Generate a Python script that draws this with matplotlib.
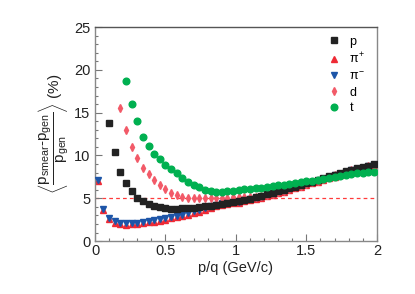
import matplotlib
matplotlib.use('Agg')
import matplotlib.pyplot as plt
import numpy as np

plt.rcParams['font.family'] = ['Liberation Sans', 'DejaVu Sans']
plt.rcParams['mathtext.fontset'] = 'custom'
plt.rcParams['mathtext.rm'] = 'Liberation Sans'
plt.rcParams['mathtext.it'] = 'Liberation Sans'

# p/q bin centres (GeV/c)
pq = [0.02, 0.06, 0.10, 0.14, 0.18, 0.22, 0.26, 0.30, 0.34, 0.38,
      0.42, 0.46, 0.50, 0.54, 0.58, 0.62, 0.66, 0.70, 0.74, 0.78,
      0.82, 0.86, 0.90, 0.94, 0.98, 1.02, 1.06, 1.10, 1.14, 1.18,
      1.22, 1.26, 1.30, 1.34, 1.38, 1.42, 1.46, 1.50, 1.54, 1.58,
      1.62, 1.66, 1.70, 1.74, 1.78, 1.82, 1.86, 1.90, 1.94, 1.98]

# resolution (%) per species; None = no point
res_p = [None, None, 13.8, 10.4, 8.1, 6.75, 5.8, 5.0, 4.65, 4.33,
         4.1, 3.95, 3.85, 3.8, 3.8, 3.82, 3.86, 3.92, 3.98, 4.05,
         4.13, 4.22, 4.32, 4.43, 4.55, 4.68, 4.82, 4.97, 5.12, 5.28,
         5.45, 5.62, 5.8, 5.98, 6.17, 6.36, 6.55, 6.75, 6.95, 7.15,
         7.35, 7.55, 7.75, 7.95, 8.15, 8.33, 8.5, 8.65, 8.8, 8.95]
res_pip = [7.0, 3.6, 2.55, 2.15, 1.95, 1.93, 1.95, 2.02, 2.1, 2.18,
           2.28, 2.4, 2.52, 2.65, 2.78, 2.92, 3.08, 3.26, 3.45, 3.65,
           3.85, 4.05, 4.22, 4.35, 4.45, 4.5, 4.63, 4.78, 4.93, 5.08,
           5.25, 5.42, 5.6, 5.78, 5.96, 6.15, 6.34, 6.54, 6.74, 6.94,
           7.14, 7.34, 7.54, 7.74, 7.94, 8.12, 8.28, 8.43, 8.58, 8.73]
res_pim = [7.15, 3.75, 2.7, 2.3, 2.1, 2.08, 2.1, 2.17, 2.26, 2.35,
           2.45, 2.57, 2.7, 2.83, 2.97, 3.1, 3.28, 3.46, 3.65, 3.85,
           4.05, 4.25, 4.42, 4.55, 4.62, 4.6, 4.74, 4.89, 5.04, 5.2,
           5.37, 5.54, 5.72, 5.9, 6.09, 6.28, 6.47, 6.67, 6.87, 7.07,
           7.27, 7.47, 7.67, 7.87, 8.07, 8.25, 8.42, 8.57, 8.72, 8.87]
res_d = [None, None, None, None, 15.6, 12.95, 11.0, 9.65, 8.55, 7.8,
         7.1, 6.55, 6.05, 5.65, 5.35, 5.1, 5.05, 5.0, 5.0, 5.02,
         5.03, 5.05, 5.06, 5.08, 5.1, 5.12, 5.14, 5.15, 5.17, 5.22,
         5.38, 5.55, 5.72, 5.9, 6.09, 6.28, 6.47, 6.67, 6.87, 7.07,
         7.27, 7.47, 7.67, 7.87, 8.07, 8.25, 8.42, 8.57, 8.72, 8.87]
res_t = [None, None, None, None, None, 18.65, 16.0, 14.05, 12.15, 11.15,
         10.15, 9.55, 8.85, 8.4, 7.9, 7.4, 6.95, 6.55, 6.3, 6.0,
         5.85, 5.75, 5.75, 5.8, 5.9, 6.0, 6.07, 6.12, 6.18, 6.25,
         6.35, 6.43, 6.52, 6.6, 6.68, 6.76, 6.86, 6.96, 7.06, 7.17,
         7.3, 7.42, 7.53, 7.65, 7.75, 7.85, 7.93, 8.0, 8.07, 8.12]

labels = ['p', r'$\pi^{+}$', r'$\pi^{-}$', 'd', 't']


def arr(v):
    return np.array([np.nan if x is None else x for x in v], dtype=float)


fig = plt.figure(figsize=(4.15, 2.94), dpi=100)
ax = fig.add_axes([0.229, 0.180, 0.679, 0.728])

x = np.array(pq)
ax.axhline(5, color='#ff3b3b', lw=0.9, ls=(0, (3, 2.5)), zorder=1)

h_pip = ax.errorbar(x, arr(res_pip), yerr=0.2, fmt='^', color='#ee2a35', ms=4.2,
                    elinewidth=0.6, capsize=0, zorder=2)
h_pim = ax.errorbar(x, arr(res_pim), yerr=0.2, fmt='v', color='#1d55a8', ms=4.2,
                    elinewidth=0.6, capsize=0, zorder=3)
h_d = ax.errorbar(x, arr(res_d), yerr=0.3, fmt='d', color='#f25a68', ms=3.6,
                  elinewidth=0.8, capsize=0, zorder=4)
h_p = ax.errorbar(x, arr(res_p), yerr=0.15, fmt='s', color='#222222', ms=4.5,
                  elinewidth=0.6, capsize=0, zorder=5)
h_t = ax.errorbar(x, arr(res_t), yerr=0.15, fmt='o', color='#00b050', ms=4.8,
                  elinewidth=0.6, capsize=0, zorder=6)

ax.set_xlim(0, 2)
ax.set_ylim(0, 25)
ax.set_xticks([0, 0.5, 1, 1.5, 2])
ax.set_xticklabels(['0', '0.5', '1', '1.5', '2'])
ax.set_yticks([0, 5, 10, 15, 20, 25])
ax.xaxis.set_minor_locator(matplotlib.ticker.MultipleLocator(0.1))
ax.yaxis.set_minor_locator(matplotlib.ticker.MultipleLocator(1))
ax.tick_params(which='both', direction='in', colors='#777777', labelcolor='#222222',
               labelsize=10.5, width=0.8, top=False, right=False)
ax.tick_params(which='major', length=5)
ax.tick_params(which='minor', length=2.5)
ax.tick_params(axis='x', pad=2)
for s in ['left', 'bottom', 'right']:
    ax.spines[s].set_color('#888888')
    ax.spines[s].set_linewidth(1.0)
ax.spines['top'].set_color('#555555')
ax.spines['top'].set_linewidth(1.0)

ax.set_xlabel('p/q (GeV/c)', fontsize=10.5, color='#222222', labelpad=2)
ax.set_ylabel(r'$\left\langle\dfrac{\mathrm{p_{smear}\text{-}p_{gen}}}{\mathrm{p_{gen}}}\right\rangle$ (%)',
              fontsize=11, color='#222222', labelpad=2)

ax.legend([h_p[0], h_pip[0], h_pim[0], h_d[0], h_t[0]], labels, loc='upper right',
          frameon=False, fontsize=9, handletextpad=0.5, labelspacing=0.3,
          handlelength=1.5, borderaxespad=0.3, bbox_to_anchor=(0.99, 1.0))

fig.savefig('out.png', dpi=100)
